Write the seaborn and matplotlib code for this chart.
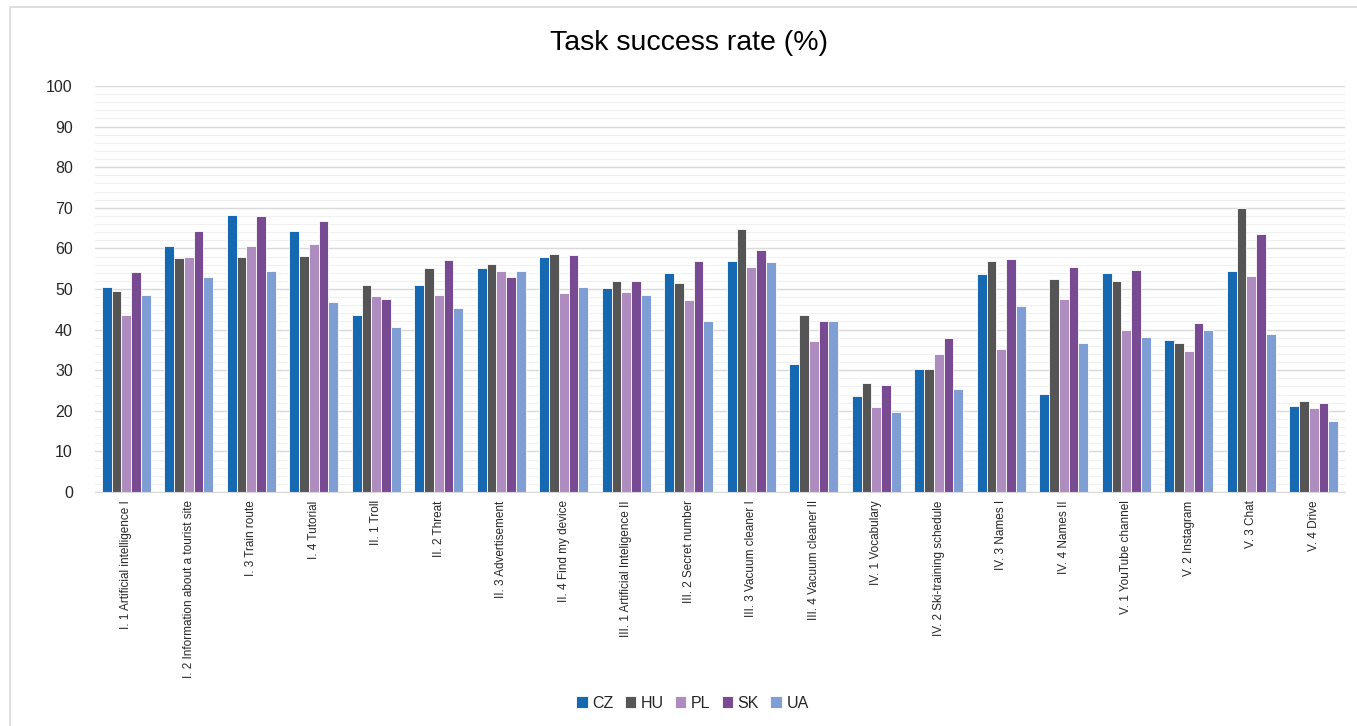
import pandas as pd
import numpy as np
import matplotlib.pyplot as plt
import seaborn as sns
from matplotlib.patches import Rectangle

# data
tasks = [
    "I. 1 Artificial intelligence I", "I. 2 Information about a tourist site",
    "I. 3 Train route", "I. 4 Tutorial", "II. 1 Troll", "II. 2 Threat",
    "II. 3 Advertisement", "II. 4 Find my device", "III. 1 Artificial Inteligence II",
    "III. 2 Secret number", "III. 3 Vacuum cleaner I", "III. 4 Vacuum cleaner II",
    "IV. 1 Vocabulary", "IV. 2 Ski-training schedule", "IV. 3 Names I",
    "IV. 4 Names II", "V. 1 YouTube channel", "V. 2 Instagram", "V. 3 Chat", "V. 4 Drive",
]
countries = ["CZ", "HU", "PL", "SK", "UA"]
cz = [50.5, 60.7, 68.2, 64.4, 43.7, 51.1, 55.2, 57.8, 50.2, 54.0,
      57.0, 31.5, 23.6, 30.4, 53.8, 24.2, 54.0, 37.5, 54.4, 21.3]
hu = [49.5, 57.7, 57.9, 58.1, 51.1, 55.1, 56.1, 58.5, 52.0, 51.6,
      64.8, 43.6, 26.8, 30.4, 56.8, 52.4, 51.9, 36.8, 69.9, 22.5]
pl = [43.6, 57.9, 60.7, 61.0, 48.2, 48.4, 54.5, 49.1, 49.3, 47.3,
      55.3, 37.3, 20.9, 33.9, 35.1, 47.5, 40.0, 34.8, 53.1, 20.8]
sk = [54.1, 64.4, 67.9, 66.7, 47.5, 57.2, 53.0, 58.4, 52.0, 57.0,
      59.5, 42.2, 26.3, 37.9, 57.3, 55.4, 54.6, 41.6, 63.5, 21.8]
ua = [48.4, 53.0, 54.5, 46.7, 40.7, 45.2, 54.5, 50.6, 48.4, 42.1,
      56.7, 42.2, 19.8, 25.3, 45.9, 36.8, 38.2, 39.8, 39.0, 17.5]
colors = ["#1668B0", "#555555", "#AE8CBF", "#774A92", "#7F9ED3"]

df = pd.DataFrame({"task": tasks, "CZ": cz, "HU": hu, "PL": pl, "SK": sk, "UA": ua})
long = df.melt(id_vars="task", var_name="country", value_name="rate")

sns.set_style("white")
plt.rcParams["font.family"] = ["Liberation Sans Narrow", "Liberation Sans", "DejaVu Sans"]

fig = plt.figure(figsize=(13.57, 7.26), dpi=100)
# chart frame
fig.patches.append(Rectangle((10 / 1357, -0.01), 1.0, 1 - 7 / 726 + 0.01,
                             transform=fig.transFigure, fill=False,
                             edgecolor="#D9D9D9", linewidth=1.2))
ax = fig.add_axes([95 / 1357, 1 - 492 / 726, 1250 / 1357, 406 / 726])

sns.barplot(data=long, x="task", y="rate", hue="country", hue_order=countries,
            palette=colors, width=0.78, edgecolor="white", linewidth=0.6,
            saturation=1, ax=ax)

ax.set_ylim(0, 100)
ax.set_xlim(-0.5, len(tasks) - 0.5)
ax.set_yticks(np.arange(0, 101, 10))
ax.set_yticks(np.arange(0, 101, 2), minor=True)
ax.grid(axis="y", which="major", color="#D9D9D9", linewidth=1.0)
ax.grid(axis="y", which="minor", color="#F0F0F0", linewidth=0.8)
ax.set_axisbelow(True)
for s in ["top", "right", "left"]:
    ax.spines[s].set_visible(False)
ax.spines["bottom"].set_color("#D9D9D9")
ax.tick_params(axis="y", which="both", length=0, labelsize=11.5, pad=16, colors="#262626")
ax.tick_params(axis="x", length=0, labelsize=8.5, pad=6, colors="#262626")
plt.setp(ax.get_yticklabels(), family=["Liberation Sans", "DejaVu Sans"])
plt.setp(ax.get_xticklabels(), rotation=90, ha="center", va="top")
ax.set_xlabel("")
ax.set_ylabel("")

fig.text(0.5 + 10 / 1357, 1 - 43 / 726, "Task success rate (%)", ha="center", va="center",
         fontsize=20.5, color="#000000")

leg = ax.legend(loc="center", bbox_to_anchor=(0.5 + 14 / 1357, 1 - 703 / 726),
                bbox_transform=fig.transFigure,
                ncol=5, frameon=False, fontsize=11.5, handlelength=0.7, handleheight=0.7,
                handletextpad=0.3, columnspacing=0.7)
for t in leg.get_texts():
    t.set_family(["Liberation Sans", "DejaVu Sans"])

fig.savefig("out.png", dpi=100)
